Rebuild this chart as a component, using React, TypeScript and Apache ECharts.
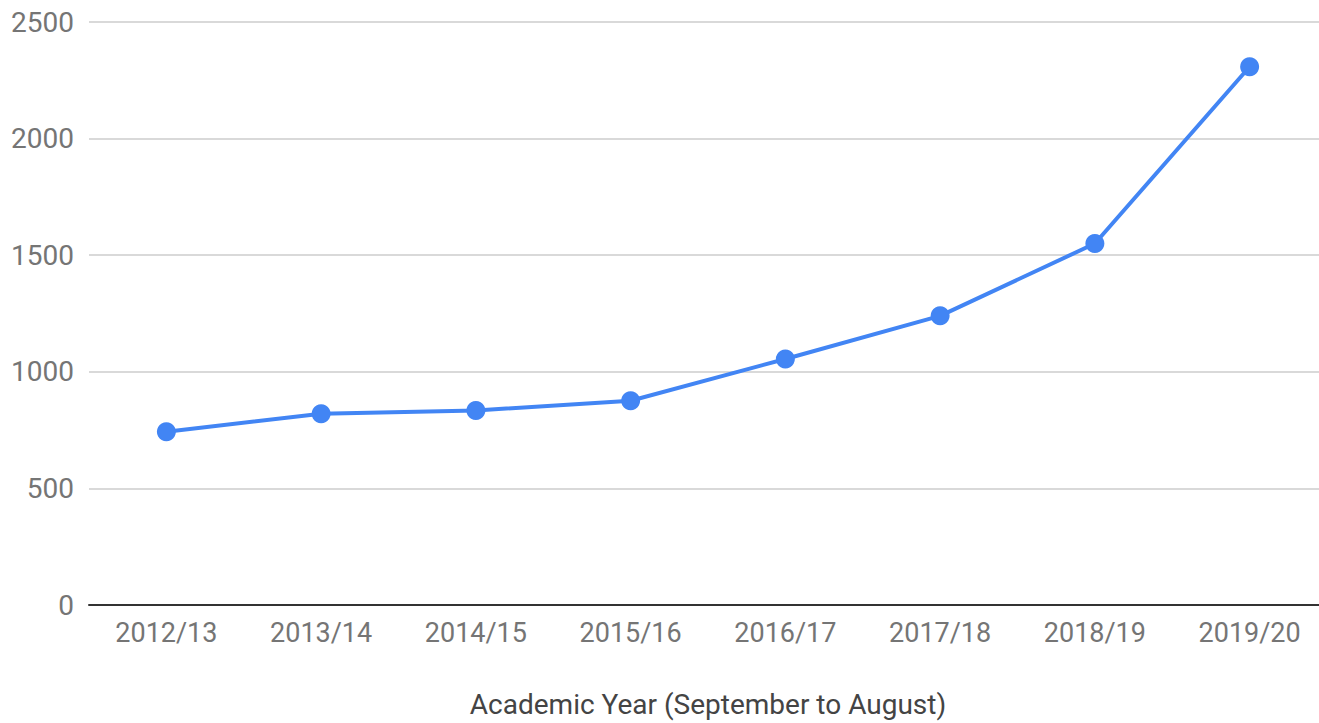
import React, { useEffect, useRef } from "react";
import * as echarts from "echarts";

const categories = ["2012/13", "2013/14", "2014/15", "2015/16", "2016/17", "2017/18", "2018/19", "2019/20"];
const values = [743, 820, 834, 876, 1055, 1240, 1550, 2308];
const yTicks = { min: 0, max: 2500, interval: 500 };
const xAxisTitle = "Academic Year (September to August)";

export default function App() {
  const ref = useRef<HTMLDivElement>(null);
  useEffect(() => {
    document.body.style.margin = "0";
    document.body.style.overflow = "hidden";
    const chart = echarts.init(ref.current!, undefined, { renderer: "svg" });
    chart.setOption({
      animation: false,
      backgroundColor: "#ffffff",
      grid: { left: 89, right: 0, top: 22, bottom: 115 },
      xAxis: {
        type: "category",
        data: categories,
        boundaryGap: true,
        axisLine: { lineStyle: { color: "#333333", width: 2 } },
        axisTick: { show: false },
        axisLabel: { color: "#757575", fontSize: 27, fontFamily: "Roboto", margin: 14 },
        name: xAxisTitle,
        nameLocation: "middle",
        nameGap: 85,
        nameTextStyle: { color: "#444444", fontSize: 28, fontFamily: "Roboto", verticalAlign: "top" },
      },
      yAxis: {
        type: "value",
        min: yTicks.min,
        max: yTicks.max,
        interval: yTicks.interval,
        axisLine: { show: false },
        axisTick: { show: false },
        splitLine: { lineStyle: { color: "#cccccc", width: 1.5 } },
        axisLabel: {
          color: "#757575",
          fontSize: 28,
          fontFamily: "Roboto",
          margin: 15,
          formatter: (v: number) => String(v),
        },
      },
      series: [
        {
          type: "line",
          data: values,
          symbol: "circle",
          symbolSize: 19,
          lineStyle: { color: "#4285F4", width: 4 },
          itemStyle: { color: "#4285F4" },
        },
      ],
    });
    return () => chart.dispose();
  }, []);
  return <div ref={ref} style={{ width: 1327, height: 723 }} />;
}
